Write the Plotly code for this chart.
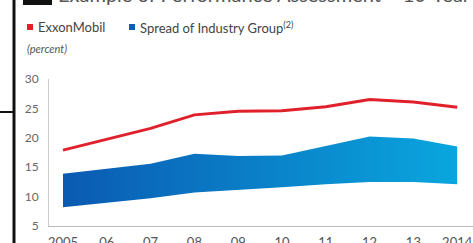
import plotly.graph_objects as go

years = [2005, 2006, 2007, 2008, 2009, 2010, 2011, 2012, 2013, 2014]
tick_labels = ["2005", "06", "07", "08", "09", "10", "11", "12", "13", "2014"]
exxon = [17.9, 19.8, 21.6, 23.9, 24.5, 24.6, 25.3, 26.5, 26.1, 25.2]
spread_high = [13.9, 14.8, 15.6, 17.3, 16.9, 17.0, 18.6, 20.2, 19.9, 18.5]
spread_low = [8.2, 9.0, 9.7, 10.7, 11.1, 11.6, 12.1, 12.5, 12.5, 12.1]

W, H = 473, 243
L, R, T, B = 49, 0, 79, 17
pw, ph = W - L - R, H - T - B

def px(x):
    return (x - L) / pw

def py(y):
    return (H - B - y) / ph

fig = go.Figure()
fig.add_trace(go.Scatter(x=years, y=spread_low, mode="lines",
                         line=dict(width=0, color="#0a5fb4"), showlegend=False,
                         hoverinfo="skip"))
fig.add_trace(go.Scatter(x=years, y=spread_high, mode="lines", fill="tonexty",
                         line=dict(width=0, color="#0a5fb4"),
                         fillgradient=dict(type="horizontal",
                                           colorscale=[[0, "#0a5ab2"], [1, "#0aa6de"]]),
                         showlegend=False))
fig.add_trace(go.Scatter(x=years, y=exxon, mode="lines",
                         line=dict(width=3, color="#e0202a"), showlegend=False))

font = "Lato, Open Sans, sans-serif"

shapes = [
    dict(type="line", xref="paper", yref="paper", x0=px(14), x1=px(14), y0=py(0), y1=py(243),
         line=dict(color="#111", width=3)),
    dict(type="line", xref="paper", yref="paper", x0=px(0), x1=px(14), y0=py(112), y1=py(112),
         line=dict(color="#111", width=2)),
    dict(type="rect", xref="paper", yref="paper", x0=px(23), x1=px(52), y0=py(-10), y1=py(5),
         fillcolor="#111", line=dict(width=0)),
    dict(type="rect", xref="paper", yref="paper", x0=px(27), x1=px(33), y0=py(30), y1=py(24),
         fillcolor="#e0202a", line=dict(width=0)),
    dict(type="rect", xref="paper", yref="paper", x0=px(129), x1=px(135), y0=py(30), y1=py(24),
         fillcolor="#0a5fb4", line=dict(width=0)),
]

annotations = [
    dict(text="Example of Performance Assessment – 10-Year Average", xref="paper", yref="paper",
         x=px(56), y=py(8), xanchor="left", yanchor="bottom", showarrow=False,
         font=dict(family=font, size=20, color="#555")),
    dict(text="ExxonMobil", xref="paper", yref="paper", x=px(36), y=py(27),
         xanchor="left", yanchor="middle", showarrow=False,
         font=dict(family=font, size=13, color="#444")),
    dict(text="Spread of Industry Group<sup>(2)</sup>", xref="paper", yref="paper", x=px(138), y=py(27),
         xanchor="left", yanchor="middle", showarrow=False,
         font=dict(family=font, size=13, color="#444")),
    dict(text="<i>(percent)</i>", xref="paper", yref="paper", x=px(25), y=py(48),
         xanchor="left", yanchor="middle", showarrow=False,
         font=dict(family=font, size=11, color="#555")),
]

fig.update_layout(
    width=W, height=H,
    margin=dict(l=L, r=R, t=T, b=B, pad=0, autoexpand=False),
    paper_bgcolor="white", plot_bgcolor="white",
    shapes=shapes, annotations=annotations,
    xaxis=dict(range=[2005 - 14 / 43.8, 2005 + (W - 63) / 43.8], tickvals=years, ticktext=tick_labels,
               showgrid=False, zeroline=False, showline=True, linecolor="#bbb", linewidth=1,
               automargin=False,
               ticks="", ticklabelstandoff=4, tickfont=dict(family=font, size=13, color="#555")),
    yaxis=dict(range=[5, 30], tickvals=[5, 10, 15, 20, 25, 30], showgrid=False, zeroline=False,
               showline=True, linecolor="#ccc", linewidth=1, ticks="", ticklabelstandoff=7,
               automargin=False,
               tickfont=dict(family=font, size=12, color="#666")),
)

fig.write_html("out.html", config={"displayModeBar": False},
               post_script="document.body.style.margin='0';")
